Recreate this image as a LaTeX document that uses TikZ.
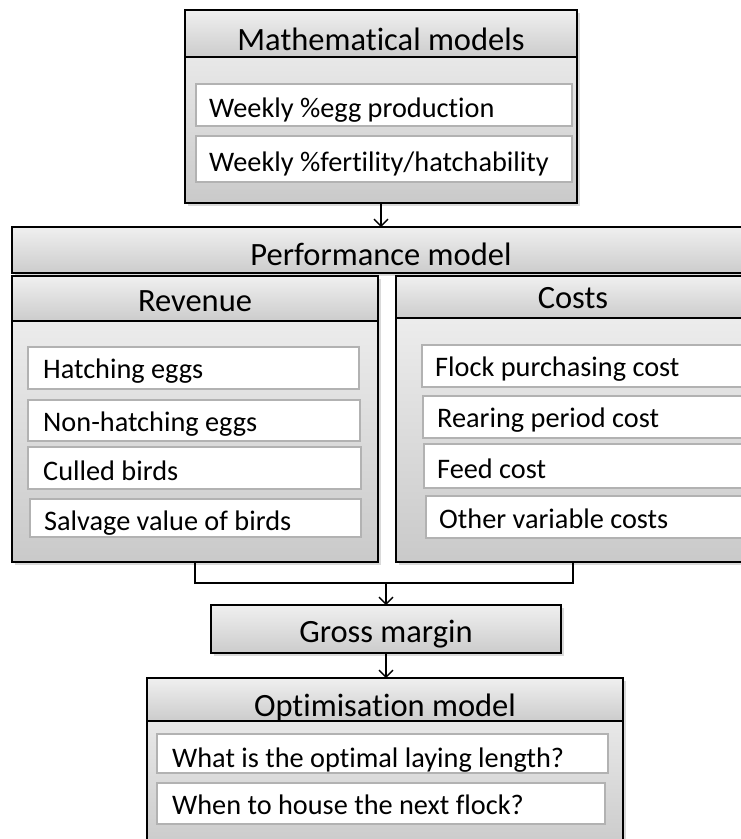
\documentclass[tikz,border=0pt]{standalone}
\usepackage{fontspec}
\setmainfont{Carlito}[Ligatures={NoCommon}]
\usetikzlibrary{shadows,arrows.meta}
\tikzset{
  panel/.style={draw=black, line width=1.6pt, top color=gray!10, bottom color=gray!42,
    anchor=north west, inner sep=0pt, outer sep=0pt,
    drop shadow={opacity=0.3, shadow xshift=2.5pt, shadow yshift=-2.5pt}},
  hdr/.style={draw=black, line width=1.6pt, top color=gray!12, bottom color=gray!40,
    anchor=north west, inner sep=0pt, outer sep=0pt},
  itembox/.style={draw=gray!60, line width=1.5pt, fill=white, anchor=north west,
    inner sep=0pt, outer sep=0pt},
  lbl/.style={anchor=base west, inner sep=0pt, font=\fontsize{28.3}{31}\selectfont},
  htxt/.style={anchor=base, inner sep=0pt, font=\fontsize{32.5}{35}\selectfont},
  link/.style={line width=1.3pt},
  conn/.style={line width=1.3pt, -{Straight Barb[length=7pt,width=14pt,line width=1.3pt]}}
}
\begin{document}
\begin{tikzpicture}[x=1pt,y=-1pt]
\useasboundingbox (0,0) rectangle (741,839);

% Mathematical models
\node[panel, minimum width=392pt, minimum height=193pt] (mm) at (185,10) {};
\node[hdr, minimum width=392pt, minimum height=47pt] (mmh) at (185,10) {};
\node[htxt] (mmt) at ([yshift=7pt]mmh.south) {Mathematical models};
\node[itembox, minimum width=376pt, minimum height=42pt] (mm1) at (196,84) {};
\node[lbl] (mm1t) at ([xshift=13pt,yshift=9pt]mm1.south west) {Weekly \%egg production};
\node[itembox, minimum width=376pt, minimum height=46pt] (mm2) at (196,136) {};
\node[lbl] (mm2t) at ([xshift=13pt,yshift=11pt]mm2.south west) {Weekly \%fertility/hatchability};

% Performance model header
\node[hdr, minimum width=738pt, minimum height=46pt,
  drop shadow={opacity=0.3, shadow xshift=2.5pt, shadow yshift=-2.5pt}] (perf) at (12,227) {};
\node[htxt] (perft) at ([yshift=8pt]perf.south) {Performance model};

% Revenue
\node[panel, minimum width=366pt, minimum height=286pt] (rev) at (12,276) {};
\node[hdr, minimum width=366pt, minimum height=45pt] (revh) at (12,276) {};
\node[htxt] (revt) at ([yshift=10pt]revh.south) {Revenue};
\node[itembox, minimum width=331pt, minimum height=42pt] (rev1) at (28,347) {};
\node[lbl] (rev1t) at ([xshift=15pt,yshift=11pt]rev1.south west) {Hatching eggs};
\node[itembox, minimum width=332pt, minimum height=41pt] (rev2) at (28,400) {};
\node[lbl] (rev2t) at ([xshift=15pt,yshift=10pt]rev2.south west) {Non-hatching eggs};
\node[itembox, minimum width=333pt, minimum height=42pt] (rev3) at (28,447) {};
\node[lbl] (rev3t) at ([xshift=15pt,yshift=9pt]rev3.south west) {Culled birds};
\node[itembox, minimum width=331pt, minimum height=38pt] (rev4) at (30,499) {};
\node[lbl] (rev4t) at ([xshift=14pt,yshift=7pt]rev4.south west) {Salvage value of birds};

% Costs
\node[panel, minimum width=354pt, minimum height=286pt] (cost) at (396,276) {};
\node[hdr, minimum width=354pt, minimum height=42pt] (costh) at (396,276) {};
\node[htxt] (costt) at ([yshift=10pt]costh.south) {Costs};
\node[itembox, minimum width=340pt, minimum height=42pt] (cost1) at (422,345) {};
\node[lbl] (cost1t) at ([xshift=13pt,yshift=11pt]cost1.south west) {Flock purchasing cost};
\node[itembox, minimum width=340pt, minimum height=42pt] (cost2) at (423,396) {};
\node[lbl] (cost2t) at ([xshift=14pt,yshift=11pt]cost2.south west) {Rearing period cost};
\node[itembox, minimum width=340pt, minimum height=44pt] (cost3) at (424,444) {};
\node[lbl] (cost3t) at ([xshift=13pt,yshift=10pt]cost3.south west) {Feed cost};
\node[itembox, minimum width=340pt, minimum height=42pt] (cost4) at (426,496) {};
\node[lbl] (cost4t) at ([xshift=13pt,yshift=10pt]cost4.south west) {Other variable costs};

% Gross margin
\node[hdr, minimum width=350pt, minimum height=48pt,
  drop shadow={opacity=0.3, shadow xshift=2.5pt, shadow yshift=-2.5pt}] (gm) at (211,605) {};
\node[htxt] (gmt) at ([yshift=11pt]gm.south) {Gross margin};

% Optimisation model
\node[panel, minimum width=476pt, minimum height=175pt] (opt) at (147,678) {};
\node[hdr, minimum width=476pt, minimum height=43pt] (opth) at (147,678) {};
\node[htxt] (optt) at ([yshift=5pt]opth.south) {Optimisation model};
\node[itembox, minimum width=451pt, minimum height=39pt] (opt1) at (157,734) {};
\node[lbl] (opt1t) at ([xshift=15pt,yshift=6pt]opt1.south west) {What is the optimal laying length?};
\node[itembox, minimum width=448pt, minimum height=41pt] (opt2) at (157,783) {};
\node[lbl] (opt2t) at ([xshift=15pt,yshift=10pt]opt2.south west) {When to house the next flock?};

% Connectors
\coordinate (j) at (386,583);
\draw[conn] (mm.south) -- (perf.north -| mm.south);
\draw[link] (rev.south) |- (j) -| (cost.south);
\draw[conn] (j) -- (gm.north);
\draw[conn] (gm.south) -- (opt.north -| gm.south);
\end{tikzpicture}
\end{document}
